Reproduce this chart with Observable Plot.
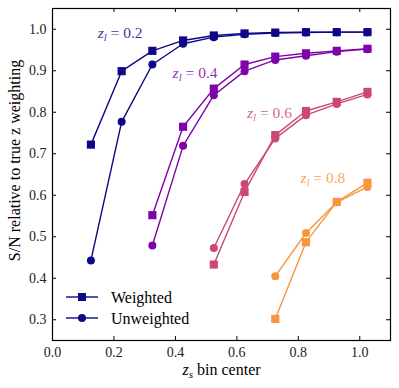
<!DOCTYPE html>
<html><head><meta charset="utf-8">
<script src="https://cdn.jsdelivr.net/npm/d3@7"></script>
<script src="https://cdn.jsdelivr.net/npm/@observablehq/plot@0.6"></script>
<style>body{margin:0;background:#fff}</style>
</head><body><div id="chart"></div>
<script>
// ---- data ----
const binCenters = [0.125, 0.225, 0.325, 0.425, 0.525, 0.625, 0.725, 0.825, 0.925, 1.025];
const lensZ = [0.2, 0.4, 0.6, 0.8];
const lensColors = ["#0d0887", "#7e03a8", "#cc4778", "#f89540"];
const firstBin = [0, 2, 4, 6];
const weighted02 = [0.722, 0.899, 0.948, 0.973, 0.985, 0.990, 0.992, 0.993, 0.993, 0.993];
const unweighted02 = [0.443, 0.777, 0.915, 0.965, 0.981, 0.988, 0.991, 0.992, 0.993, 0.993];
const weighted04 = [0.552, 0.765, 0.857, 0.915, 0.934, 0.942, 0.948, 0.953];
const unweighted04 = [0.479, 0.719, 0.841, 0.899, 0.926, 0.936, 0.946, 0.952];
const weighted06 = [0.433, 0.608, 0.745, 0.803, 0.825, 0.849];
const unweighted06 = [0.473, 0.627, 0.737, 0.793, 0.820, 0.843];
const weighted08 = [0.302, 0.487, 0.584, 0.630];
const unweighted08 = [0.405, 0.509, 0.583, 0.620];
const xTicks = [0.0, 0.2, 0.4, 0.6, 0.8, 1.0];
const yTicks = [0.3, 0.4, 0.5, 0.6, 0.7, 0.8, 0.9, 1.0];
const labelText = ["z_l = 0.2", "z_l = 0.4", "z_l = 0.6", "z_l = 0.8"];
const labelX = [0.220, 0.464, 0.706, 0.880];
const labelY = [0.991, 0.895, 0.798, 0.641];
const legendNames = ["Weighted", "Unweighted"];
const xTitle = "z_s bin center";
const yTitle = "S/N relative to true z weighting";

// ---- build rows ----
const weightedSets = [weighted02, weighted04, weighted06, weighted08];
const unweightedSets = [unweighted02, unweighted04, unweighted06, unweighted08];
const rows = [];
lensZ.forEach((zl, i) => {
  weightedSets[i].forEach((v, j) => rows.push({zl, zs: binCenters[firstBin[i] + j], sn: v, kind: "Weighted"}));
  unweightedSets[i].forEach((v, j) => rows.push({zl, zs: binCenters[firstBin[i] + j], sn: v, kind: "Unweighted"}));
});
const labels = lensZ.map((zl, i) => ({zl, text: labelText[i], x: labelX[i], y: labelY[i]}));

const W = 399, H = 388, mL = 52, mR = 9, mT = 8, mB = 48;
const innerW = W - mL - mR, innerH = H - mT - mB;
const font = "'Liberation Serif', 'DejaVu Serif', serif";

const plot = Plot.plot({
  width: W, height: H,
  marginLeft: mL, marginRight: mR, marginTop: mT, marginBottom: mB,
  style: {background: "#fff"},
  x: {domain: [0, 1.1]},
  y: {domain: [0.25, 1.05]},
  color: {domain: lensZ, range: lensColors},
  marks: [
    Plot.line(rows, {x: "zs", y: "sn", z: d => d.zl + d.kind, stroke: "zl", strokeWidth: 1.4}),
    Plot.dot(rows.filter(d => d.kind === "Weighted"), {x: "zs", y: "sn", fill: "zl", symbol: "square", r: 4.6}),
    Plot.dot(rows.filter(d => d.kind === "Unweighted"), {x: "zs", y: "sn", fill: "zl", symbol: "circle", r: 4}),
    Plot.text(labels, {x: "x", y: "y", text: "text", fill: "zl", fontSize: 15.5, fillOpacity: 0.85}),
    Plot.tickX(xTicks, {x: d => d, insetTop: innerH - 4, stroke: "black"}),
    Plot.tickX(xTicks, {x: d => d, insetBottom: innerH - 4, stroke: "black"}),
    Plot.tickY(yTicks, {y: d => d, insetRight: innerW - 4, stroke: "black"}),
    Plot.tickY(yTicks, {y: d => d, insetLeft: innerW - 4, stroke: "black"}),
    Plot.axisX({ticks: xTicks, tickSize: 0, tickPadding: 7, tickFormat: d3.format(".1f"), label: null, fontSize: 14, fill: "#222"}),
    Plot.axisY({ticks: yTicks, tickSize: 0, tickPadding: 6, tickFormat: d3.format(".1f"), label: null, fontSize: 14, fill: "#222"}),
    Plot.text([yTitle], {frameAnchor: "left", textAnchor: "middle", lineAnchor: "middle", rotate: -90, dx: -38, dy: -14, fontSize: 16, fill: "black"}),
    Plot.text([xTitle], {frameAnchor: "bottom", textAnchor: "middle", lineAnchor: "middle", dy: 29, fontSize: 16, fill: "black"}),
    Plot.frame({stroke: "black", strokeWidth: 1.2})
  ]
});
document.getElementById("chart").append(plot);

// subscript rendering for "z_x ..." texts
d3.select(plot).selectAll("text").each(function() {
  const t = this.textContent;
  const m = /^z_(\w)(.*)$/.exec(t);
  if (!m) return;
  const el = d3.select(this);
  el.text(null);
  el.append("tspan").attr("font-style", "italic").text("z");
  el.append("tspan").attr("font-style", "italic").attr("font-size", "0.7em").attr("dy", 3).text(m[1]);
  el.append("tspan").attr("dy", -3).text(m[2]);
});

// legend (lower left, inside frame)
const svg = d3.select(plot);
const lg = svg.append("g").attr("font-size", 16).attr("text-anchor", "start");
legendNames.forEach((name, i) => {
  const cy = mT + innerH - 43 + i * 21;
  lg.append("line").attr("x1", mL + 14).attr("x2", mL + 46).attr("y1", cy).attr("y2", cy)
    .attr("stroke", lensColors[0]).attr("stroke-width", 1.4);
  if (i === 0) lg.append("rect").attr("x", mL + 26).attr("y", cy - 4).attr("width", 8).attr("height", 8).attr("fill", lensColors[0]);
  else lg.append("circle").attr("cx", mL + 30).attr("cy", cy).attr("r", 4).attr("fill", lensColors[0]);
  lg.append("text").attr("x", mL + 59).attr("y", cy).attr("dy", "0.35em").attr("fill", "black").attr("text-anchor", "start").text(name);
});

// force serif font on every text
svg.style("font-family", font);
svg.selectAll("text, tspan").style("font-family", font);
</script>
</body></html>
